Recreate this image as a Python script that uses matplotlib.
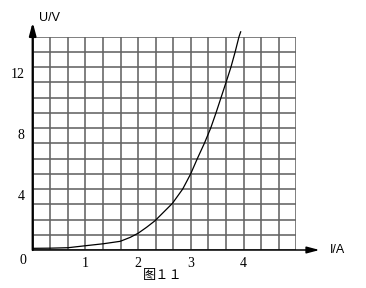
import numpy as np
import matplotlib
matplotlib.use("Agg")
import matplotlib.pyplot as plt
from matplotlib.transforms import ScaledTranslation

plt.rcParams['font.family'] = ['Liberation Serif', 'DejaVu Sans']

# U-I curve
current = [0.0, 0.33, 0.67, 1.0, 1.34, 1.66, 1.85, 2.0, 2.16, 2.32, 2.65, 2.845,
           2.997, 3.123, 3.256, 3.376, 3.477, 3.572, 3.667, 3.76, 3.84, 3.913, 3.945]
voltage = [0.11, 0.12, 0.15, 0.28, 0.41, 0.57, 0.83, 1.1, 1.49, 1.92, 3.06, 4.0,
           5.0, 6.0, 7.0, 8.0, 9.0, 10.0, 11.0, 12.0, 13.0, 14.0, 14.32]

x_ticks = [1, 2, 3, 4]
y_ticks = [4, 8, 12]
x_max, y_max = 5, 14

fig = plt.figure(figsize=(3.66, 2.88), dpi=100)
ax = fig.add_axes([32.7 / 366, 38 / 288, 263.6 / 366, 213.3 / 288])
ax.set_xlim(0, x_max)
ax.set_ylim(0, y_max)

# grid: 3 cells per ampere, 1 cell per volt
ax.set_xticks(np.arange(0, x_max + 0.01, 1 / 3), minor=True)
ax.set_yticks(np.arange(0, y_max + 0.01, 1), minor=True)
ax.set_xticks(x_ticks)
ax.set_yticks(y_ticks)
ax.set_xticklabels([str(t) for t in x_ticks])
ax.set_yticklabels([str(t) for t in y_ticks])
ax.grid(which='both', color='#636363', lw=1.15)
ax.tick_params(which='both', length=0, labelsize=10)
ax.tick_params(axis='x', pad=5)
ax.tick_params(axis='y', pad=6)
for lab in ax.get_yticklabels():
    lab.set_transform(lab.get_transform() + ScaledTranslation(0, -0.06, fig.dpi_scale_trans))
for s in ax.spines.values():
    s.set_visible(False)

# axes with arrows
ax.annotate('', xy=(5.44, 0), xytext=(0, 0), annotation_clip=False,
            arrowprops=dict(arrowstyle='-|>,head_length=0.75,head_width=0.2',
                            color='black', lw=1.1, shrinkA=0, shrinkB=0))
ax.annotate('', xy=(0, 14.95), xytext=(0, 0), annotation_clip=False,
            arrowprops=dict(arrowstyle='-|>,head_length=0.75,head_width=0.2',
                            color='black', lw=1.6, shrinkA=0, shrinkB=0))

ax.plot(current, voltage, color='black', lw=0.9, clip_on=False)

ax.annotate('U/V', xy=(0, y_max), xytext=(12, 13.3), textcoords='offset points',
            ha='center', va='center', fontsize=9, family='Liberation Sans',
            annotation_clip=False)
ax.annotate('I/A', xy=(x_max, 0), xytext=(30, 0), textcoords='offset points',
            ha='center', va='center', fontsize=9, family='Liberation Sans',
            annotation_clip=False)
ax.annotate('0', xy=(0, 0), xytext=(-7.2, -7.7), textcoords='offset points',
            ha='center', va='center', fontsize=10, annotation_clip=False)

fig.text(163 / 366, 1 - 275 / 288, '图１１', ha='center', va='center', fontsize=9.5,
         family=['Noto Sans CJK SC', 'DejaVu Sans'])

fig.savefig('out.png', dpi=100)
